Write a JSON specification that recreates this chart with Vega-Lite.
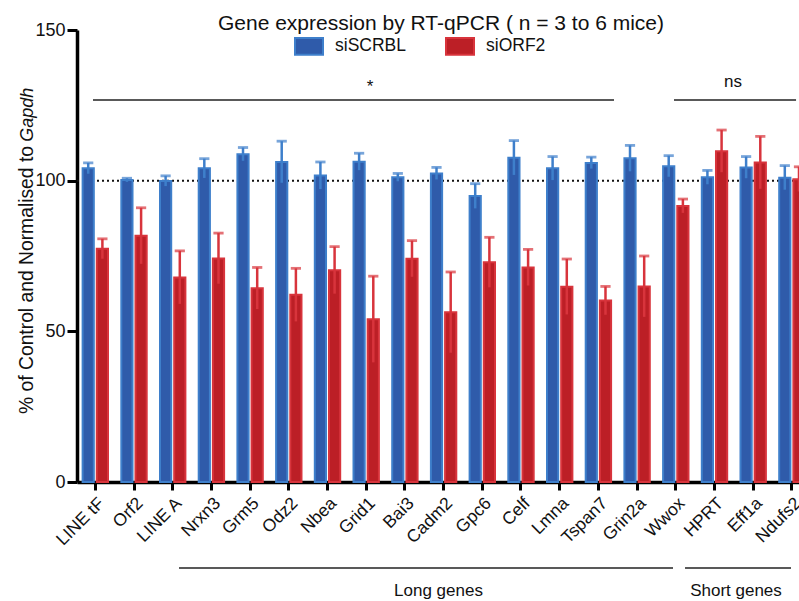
{
  "$schema": "https://vega.github.io/schema/vega-lite/v6.json",
  "autosize": {"type": "none"},
  "padding": {"left": 77, "top": 30, "right": 0, "bottom": 119},
  "width": 722,
  "height": 452,
  "background": "white",
  "config": {"font": "Liberation Sans", "view": {"stroke": null}},
  "title": {"text": "Gene expression by RT-qPCR ( n = 3 to 6 mice)", "fontSize": 21, "fontWeight": "normal", "font": "Liberation Sans", "color": "#111111", "anchor": "middle", "offset": 4, "dy": 17, "dx": 3},
  "datasets": {
    "bars": [
      {"gene": "LINE tF", "group": "siSCRBL", "mean": 104.1, "lo": 102.3, "hi": 105.9},
      {"gene": "LINE tF", "group": "siORF2", "mean": 77.4, "lo": 74.1, "hi": 80.7},
      {"gene": "Orf2", "group": "siSCRBL", "mean": 100.2, "lo": 99.6, "hi": 100.8},
      {"gene": "Orf2", "group": "siORF2", "mean": 81.7, "lo": 72.4, "hi": 91.0},
      {"gene": "LINE A", "group": "siSCRBL", "mean": 99.9, "lo": 98.2, "hi": 101.6},
      {"gene": "LINE A", "group": "siORF2", "mean": 67.9, "lo": 59.1, "hi": 76.7},
      {"gene": "Nrxn3", "group": "siSCRBL", "mean": 104.1, "lo": 100.9, "hi": 107.3},
      {"gene": "Nrxn3", "group": "siORF2", "mean": 74.2, "lo": 65.8, "hi": 82.6},
      {"gene": "Grm5", "group": "siSCRBL", "mean": 108.8, "lo": 106.6, "hi": 111.0},
      {"gene": "Grm5", "group": "siORF2", "mean": 64.3, "lo": 57.4, "hi": 71.2},
      {"gene": "Odz2", "group": "siSCRBL", "mean": 106.2, "lo": 99.3, "hi": 113.1},
      {"gene": "Odz2", "group": "siORF2", "mean": 62.1, "lo": 53.3, "hi": 70.9},
      {"gene": "Nbea", "group": "siSCRBL", "mean": 101.7, "lo": 97.2, "hi": 106.2},
      {"gene": "Nbea", "group": "siORF2", "mean": 70.3, "lo": 62.5, "hi": 78.1},
      {"gene": "Grid1", "group": "siSCRBL", "mean": 106.3, "lo": 103.5, "hi": 109.1},
      {"gene": "Grid1", "group": "siORF2", "mean": 54.0, "lo": 39.7, "hi": 68.3},
      {"gene": "Bai3", "group": "siSCRBL", "mean": 101.1, "lo": 99.8, "hi": 102.4},
      {"gene": "Bai3", "group": "siORF2", "mean": 74.1, "lo": 68.1, "hi": 80.1},
      {"gene": "Cadm2", "group": "siSCRBL", "mean": 102.4, "lo": 100.4, "hi": 104.4},
      {"gene": "Cadm2", "group": "siORF2", "mean": 56.3, "lo": 42.9, "hi": 69.7},
      {"gene": "Gpc6", "group": "siSCRBL", "mean": 94.9, "lo": 90.8, "hi": 99.0},
      {"gene": "Gpc6", "group": "siORF2", "mean": 72.9, "lo": 64.6, "hi": 81.2},
      {"gene": "Celf", "group": "siSCRBL", "mean": 107.6, "lo": 101.9, "hi": 113.3},
      {"gene": "Celf", "group": "siORF2", "mean": 71.2, "lo": 65.2, "hi": 77.2},
      {"gene": "Lmna", "group": "siSCRBL", "mean": 104.1, "lo": 100.2, "hi": 108.0},
      {"gene": "Lmna", "group": "siORF2", "mean": 64.8, "lo": 55.6, "hi": 74.0},
      {"gene": "Tspan7", "group": "siSCRBL", "mean": 105.9, "lo": 104.0, "hi": 107.8},
      {"gene": "Tspan7", "group": "siORF2", "mean": 60.2, "lo": 55.5, "hi": 64.9},
      {"gene": "Grin2a", "group": "siSCRBL", "mean": 107.4, "lo": 103.1, "hi": 111.7},
      {"gene": "Grin2a", "group": "siORF2", "mean": 64.9, "lo": 54.8, "hi": 75.0},
      {"gene": "Wwox", "group": "siSCRBL", "mean": 104.8, "lo": 101.3, "hi": 108.3},
      {"gene": "Wwox", "group": "siORF2", "mean": 91.6, "lo": 89.3, "hi": 93.9},
      {"gene": "HPRT", "group": "siSCRBL", "mean": 101.1, "lo": 98.8, "hi": 103.4},
      {"gene": "HPRT", "group": "siORF2", "mean": 109.8, "lo": 102.8, "hi": 116.8},
      {"gene": "Eff1a", "group": "siSCRBL", "mean": 104.4, "lo": 100.8, "hi": 108.0},
      {"gene": "Eff1a", "group": "siORF2", "mean": 106.0, "lo": 97.3, "hi": 114.7},
      {"gene": "Ndufs2", "group": "siSCRBL", "mean": 101.0, "lo": 97.0, "hi": 105.0},
      {"gene": "Ndufs2", "group": "siORF2", "mean": 100.5, "lo": 96.4, "hi": 104.6}
    ],
    "lines": [
      {"x": 0.413, "x2": 13.876, "y": 126.77},
      {"x": 15.426, "x2": 18.58, "y": 126.77},
      {"x": 2.636, "x2": 15.401, "y": -28.54},
      {"x": 15.711, "x2": 18.45, "y": -28.54}
    ],
    "labels": [
      {"x": 7.571, "y": 129.4, "label": "*"},
      {"x": 16.951, "y": 131.1, "label": "ns"},
      {"x": 9.341, "y": -37.8, "label": "Long genes"},
      {"x": 17.028, "y": -37.8, "label": "Short genes"}
    ]
  },
  "resolve": {"scale": {"x": "independent"}},
  "layer": [
    {
      "data": {"name": "bars"},
      "layer": [
        {
          "data": {"values": [{"ref": 100}]},
          "mark": {"type": "rule", "strokeDash": [2, 3], "strokeWidth": 2, "color": "#111111"},
          "encoding": {"y": {"field": "ref", "type": "quantitative", "scale": {"domain": [0, 150], "nice": false}}}
        },
        {
          "mark": {"type": "bar", "strokeWidth": 2},
          "encoding": {
            "x": {
              "field": "gene", "type": "nominal", "sort": null,
              "scale": {"range": [0, 733.2], "paddingInner": 0.344, "paddingOuter": 0.145},
              "axis": {"title": null, "labelAngle": -45, "labelFontSize": 17.5, "labelColor": "#111111", "domainColor": "#000000", "domainWidth": 3.5, "tickColor": "#000000", "tickWidth": 3, "tickSize": 8, "labelPadding": 4, "labelOverlap": false}
            },
            "xOffset": {"field": "group", "type": "nominal", "sort": ["siSCRBL", "siORF2"], "scale": {"domain": ["siSCRBL", "siORF2"], "paddingInner": 0.21, "paddingOuter": 0}},
            "y": {
              "field": "mean", "type": "quantitative",
              "scale": {"domain": [0, 150], "nice": false},
              "axis": {"title": null, "values": [0, 50, 100, 150], "grid": false, "labelFontSize": 18, "labelColor": "#111111", "domainColor": "#000000", "domainWidth": 3.5, "tickColor": "#000000", "tickWidth": 3, "tickSize": 10, "labelPadding": 2}
            },
            "fill": {
              "field": "group", "type": "nominal",
              "scale": {"domain": ["siSCRBL", "siORF2"], "range": ["#2F5BAA", "#BC1F26"]},
              "legend": {"orient": "none", "legendX": 217, "legendY": 1, "direction": "horizontal", "title": null, "symbolType": "M-1,-0.6H1V0.6H-1Z", "symbolSize": 784, "symbolStrokeWidth": 2, "labelFontSize": 17.5, "labelColor": "#111111", "columnPadding": 36, "labelOffset": 11}
            },
            "stroke": {
              "field": "group", "type": "nominal",
              "scale": {"domain": ["siSCRBL", "siORF2"], "range": ["#3E7FCB", "#D8343C"]},
              "legend": {"orient": "none", "legendX": 217, "legendY": 1, "direction": "horizontal", "title": null, "symbolType": "M-1,-0.6H1V0.6H-1Z", "symbolSize": 784, "symbolStrokeWidth": 2, "labelFontSize": 17.5, "labelColor": "#111111", "columnPadding": 36, "labelOffset": 11}
            }
          }
        },
        {
          "mark": {"type": "rule", "strokeWidth": 2.5},
          "encoding": {
            "x": {"field": "gene", "type": "nominal", "sort": null},
            "xOffset": {"field": "group", "type": "nominal", "sort": ["siSCRBL", "siORF2"]},
            "y": {"field": "lo", "type": "quantitative"},
            "y2": {"field": "hi"},
            "stroke": {"field": "group", "type": "nominal"}
          }
        },
        {
          "mark": {"type": "tick", "filled": false, "thickness": 0.6, "size": 8, "strokeWidth": 2.2},
          "encoding": {
            "x": {"field": "gene", "type": "nominal", "sort": null},
            "xOffset": {"field": "group", "type": "nominal", "sort": ["siSCRBL", "siORF2"]},
            "y": {"field": "hi", "type": "quantitative"},
            "stroke": {"field": "group", "type": "nominal"}
          }
        }
      ]
    },
    {
      "layer": [
        {
          "data": {"name": "lines"},
          "mark": {"type": "rule", "strokeWidth": 1.5, "color": "#222222"},
          "encoding": {
            "x": {"field": "x", "type": "quantitative", "scale": {"domain": [0, 19], "range": [0, 735.3], "nice": false, "zero": false}, "axis": null},
            "x2": {"field": "x2"},
            "y": {"field": "y", "type": "quantitative"}
          }
        },
        {
          "data": {"name": "labels"},
          "mark": {"type": "text", "fontSize": 17, "align": "center", "baseline": "alphabetic", "color": "#111111"},
          "encoding": {
            "x": {"field": "x", "type": "quantitative"},
            "y": {"field": "y", "type": "quantitative"},
            "text": {"field": "label"}
          }
        },
        {
          "data": {"values": [{"x": -1.137, "y": 111.5, "label": "% of Control and Normalised to"}]},
          "mark": {"type": "text", "fontSize": 19.3, "angle": 270, "align": "right", "baseline": "alphabetic", "color": "#111111"},
          "encoding": {
            "x": {"field": "x", "type": "quantitative"},
            "y": {"field": "y", "type": "quantitative"},
            "text": {"field": "label"}
          }
        },
        {
          "data": {"values": [{"x": -1.137, "y": 112.9, "label": "Gapdh"}]},
          "mark": {"type": "text", "fontSize": 18, "angle": 270, "align": "left", "baseline": "alphabetic", "fontStyle": "italic", "color": "#111111"},
          "encoding": {
            "x": {"field": "x", "type": "quantitative"},
            "y": {"field": "y", "type": "quantitative"},
            "text": {"field": "label"}
          }
        }
      ]
    }
  ]
}
